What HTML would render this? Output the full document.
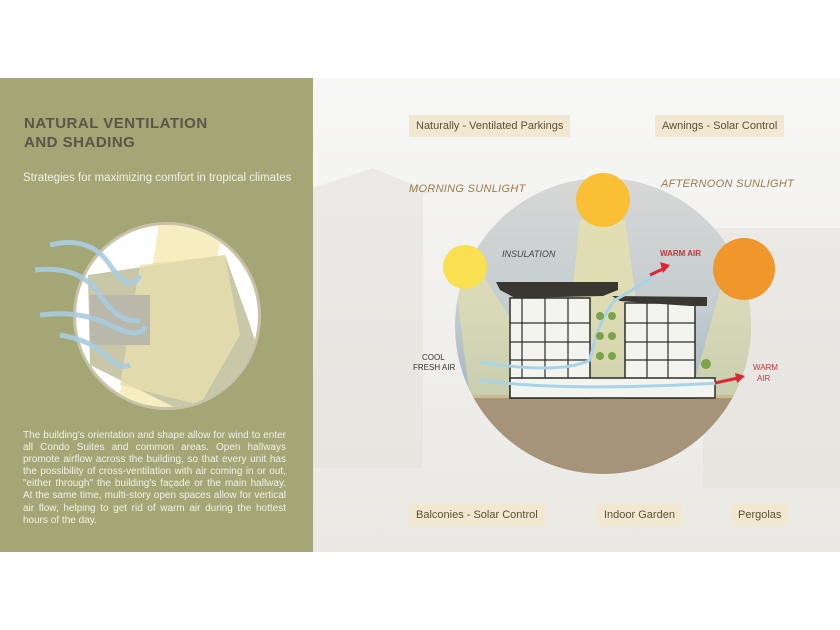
<!DOCTYPE html>
<html><head><meta charset="utf-8"><style>
*{margin:0;padding:0;box-sizing:border-box}
body{width:840px;height:630px;background:#fff;position:relative;overflow:hidden;font-family:"Liberation Sans",sans-serif}
#band{position:absolute;left:0;top:78px;width:840px;height:474px;background:linear-gradient(#f7f7f6,#efeeeb 60%,#eae8e3)}
#left{position:absolute;left:0;top:78px;width:313px;height:474px;background:#a4a676}
.t{position:absolute;color:#5a5548;font-weight:bold;font-size:15px;letter-spacing:0.5px;line-height:19px}
.lbl{position:absolute;background:#f2e8d0;color:#5a4e3a;font-size:11px;padding:0 7px;height:22px;line-height:22px}
.sun{position:absolute;font-style:italic;color:#9b7a48;font-size:11px;letter-spacing:0.3px}
</style></head><body>
<div id="band"></div>
<svg style="position:absolute;left:313px;top:78px" width="527" height="474">
<g fill="#e2e0da" opacity="0.5">
<rect x="0" y="110" width="110" height="280"/><rect x="390" y="150" width="137" height="260"/>
<polygon points="0,110 60,90 120,115 0,125"/></g>
</svg>
<div id="left"></div>
<div class="t" style="left:24px;top:114px">NATURAL VENTILATION<br>AND SHADING</div>
<div style="position:absolute;left:23px;top:172px;color:#f2f0e4;font-size:11.5px">Strategies for maximizing comfort in tropical climates</div>
<svg style="position:absolute;left:0;top:210px" width="313" height="210">
<defs><clipPath id="c1"><circle cx="167" cy="106" r="91"/></clipPath></defs>
<circle cx="167" cy="106" r="94" fill="#c9c2a9"/>
<g clip-path="url(#c1)">
<rect x="60" y="0" width="220" height="210" fill="#fff"/>
<path d="M160 0 L230 0 Q200 100 185 210 L110 210 Q150 100 160 0Z" fill="#f6eec0"/>
<polygon points="88,65 225,45 250,115 280,210 200,210 90,155" fill="#c8c7a8"/>
<polygon points="140,55 225,45 240,125 200,195 120,175" fill="#e7dfae" opacity="0.8"/>
<rect x="90" y="85" width="60" height="50" fill="#b9b8ab"/>
</g>
<g fill="none" stroke="#a8cde0" stroke-width="5" opacity="0.9">
<path d="M50 35 Q90 25 110 55 T140 65"/><path d="M35 60 Q80 55 100 85 T140 110"/>
<path d="M40 105 Q80 100 110 115 T145 117"/><path d="M60 125 Q90 130 105 145 T130 155"/>
</g>
</svg>
<div style="position:absolute;left:23px;top:430px;width:263px;color:#f2f0e4;font-size:10px;line-height:12.1px;text-align:justify">The building's orientation and shape allow for wind to enter all Condo Suites and common areas. Open hallways promote airflow across the building, so that every unit has the possibility of cross-ventilation with air coming in or out, "either through" the building's façade or the main hallway. At the same time, multi-story open spaces allow for vertical air flow, helping to get rid of warm air during the hottest hours of the day.</div>

<svg style="position:absolute;left:0;top:0" width="840" height="630">
<defs>
<clipPath id="c2"><circle cx="603" cy="326" r="148"/></clipPath>
<linearGradient id="sky" x1="0" y1="0" x2="0" y2="1"><stop offset="0" stop-color="#d8d8d6"/><stop offset="0.6" stop-color="#c4cdd0"/><stop offset="1" stop-color="#a3b6bf"/></linearGradient>
</defs>
<g clip-path="url(#c2)">
<rect x="450" y="170" width="310" height="230" fill="url(#sky)"/>
<rect x="450" y="395" width="310" height="90" fill="#a59479"/>
<polygon points="580,220 625,220 650,398 560,398" fill="#eee6a0" opacity="0.6"/>
<polygon points="455,280 480,270 560,398 470,398" fill="#eee6a0" opacity="0.5"/>
<polygon points="720,290 760,280 760,398 690,398" fill="#eee6a0" opacity="0.5"/>
</g>
<circle cx="603" cy="200" r="27" fill="#fbbf35"/>
<circle cx="465" cy="267" r="22" fill="#f8e04e"/>
<circle cx="744" cy="269" r="31" fill="#f0962a"/>
<g fill="#f4f4ef" stroke="#2d2d2d" stroke-width="1.5">
<rect x="510" y="298" width="80" height="100"/><rect x="625" y="303" width="70" height="95"/>
<rect x="510" y="378" width="205" height="20"/>
</g>
<g stroke="#2d2d2d" stroke-width="1.2">
<line x1="510" y1="323" x2="590" y2="323"/><line x1="510" y1="342" x2="590" y2="342"/><line x1="510" y1="360" x2="590" y2="360"/>
<line x1="625" y1="323" x2="695" y2="323"/><line x1="625" y1="342" x2="695" y2="342"/><line x1="625" y1="360" x2="695" y2="360"/>
<line x1="522" y1="298" x2="522" y2="378"/><line x1="545" y1="298" x2="545" y2="378"/><line x1="568" y1="298" x2="568" y2="378"/>
<line x1="647" y1="303" x2="647" y2="378"/><line x1="668" y1="303" x2="668" y2="378"/>
</g>
<polygon points="496,282 618,282 618,290 603,296 515,298 500,290" fill="#3a3733"/>
<polygon points="612,296 707,297 707,306 690,306 620,301" fill="#3a3733"/>
<g fill="none" stroke="#a8d4e8" stroke-width="3">
<path d="M480 362 Q560 375 590 360 Q598 320 615 300 Q630 292 655 275"/>
<path d="M480 380 Q560 392 720 383"/>
</g>
<path d="M650 275 L665 268" stroke="#e02434" stroke-width="3"/><polygon points="660,262 670,265 663,273" fill="#e02434"/>
<path d="M715 383 L738 378" stroke="#e02434" stroke-width="3"/><polygon points="735,373 745,376 737,383" fill="#e02434"/>
<g fill="#7da34a"><circle cx="600" cy="316" r="4"/><circle cx="612" cy="316" r="4"/><circle cx="600" cy="336" r="4"/><circle cx="612" cy="336" r="4"/><circle cx="600" cy="356" r="4"/><circle cx="612" cy="356" r="4"/><circle cx="706" cy="364" r="5"/></g>
<text x="502" y="257" font-size="9" font-style="italic" fill="#444" font-family="Liberation Sans">INSULATION</text>
<text x="660" y="256" font-size="8" font-weight="bold" fill="#c8343c" font-family="Liberation Sans">WARM AIR</text>
<text x="753" y="370" font-size="8" fill="#c8343c" font-family="Liberation Sans">WARM</text>
<text x="757" y="381" font-size="8" fill="#c8343c" font-family="Liberation Sans">AIR</text>
<text x="422" y="360" font-size="8" fill="#333" font-family="Liberation Sans">COOL</text>
<text x="413" y="370" font-size="8" fill="#333" font-family="Liberation Sans">FRESH AIR</text>
</svg>
<div class="sun" style="left:409px;top:183px">MORNING SUNLIGHT</div>
<div class="sun" style="left:661px;top:178px">AFTERNOON SUNLIGHT</div>
<div class="lbl" style="left:409px;top:115px">Naturally - Ventilated Parkings</div>
<div class="lbl" style="left:655px;top:115px">Awnings - Solar Control</div>
<div class="lbl" style="left:409px;top:504px">Balconies - Solar Control</div>
<div class="lbl" style="left:597px;top:504px">Indoor Garden</div>
<div class="lbl" style="left:731px;top:504px">Pergolas</div>
</body></html>
